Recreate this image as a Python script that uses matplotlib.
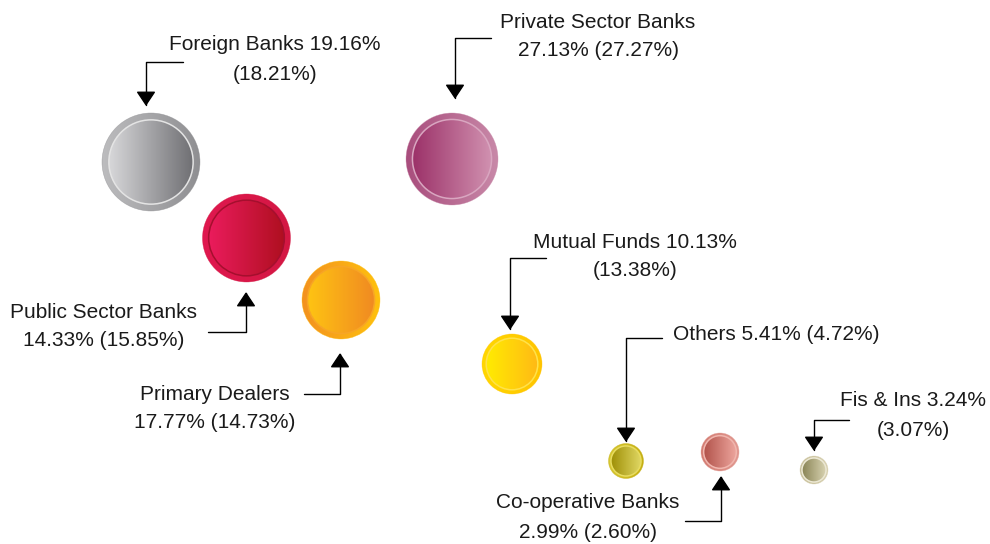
import numpy as np
import matplotlib.pyplot as plt
from matplotlib.patches import Circle
from matplotlib.colors import to_rgb

# share of trading, current (previous)
names = ["Foreign Banks", "Private Sector Banks", "Public Sector Banks", "Primary Dealers",
         "Mutual Funds", "Others", "Co-operative Banks", "Fis & Ins"]
share_now = [19.16, 27.13, 14.33, 17.77, 10.13, 5.41, 2.99, 3.24]
share_prev = [18.21, 27.27, 15.85, 14.73, 13.38, 4.72, 2.60, 3.07]

# bubble layout (pixels, y down)
bubble_x = [151, 452, 246.5, 341, 512, 626, 720, 814]
bubble_y = [162, 159, 238, 300, 364, 461, 452, 470]
bubble_r = [49, 46, 44, 39, 30, 17.5, 19, 14]

# ring (left, right), inner fill (left, right), thin line
ring_cols = [("#bdbdbf", "#8e8e91"), ("#a84c7c", "#c98aa9"), ("#e0184f", "#d31743"),
             ("#f39020", "#ffc20e"), ("#ffd800", "#ffc400"), ("#d8c832", "#c4ae12"),
             ("#d27a70", "#e29a92"), ("#c2ba92", "#d8d0b0")]
fill_cols = [("#dadadc", "#6c6c70"), ("#9a2e66", "#d294b2"), ("#ec1c5e", "#ad0f1e"),
             ("#ffc612", "#f08822"), ("#ffee00", "#ffb716"), ("#9a8a00", "#e6de6c"),
             ("#ae4e46", "#f2aca4"), ("#837e4e", "#e2dcbc")]
line_cols = ["#e4e4e4", "#d9a6c0", "#a50f2e", "#f7a526", "#ffe24a", "#e8dc60", "#f0b6ae", "#ece8d4"]

# label layout: first line centre, line start, arrow tip
text_xy = [(275, 45), (598, 22), (104, 312), (215, 394), (635, 242), (776, 335), (588, 503), (913, 401)]
line_start = [(183, 62), (491, 38), (208, 332), (304, 394), (546, 258), (662, 338), (685, 521), (849, 420)]
arrow_tip = [(146, 106), (455, 99), (246, 292), (340, 353), (510, 330), (626, 442), (721, 476), (814, 451)]
# which labels put the name and shares on one line / break after the first share
one_line = [False, False, False, False, False, True, False, False]
name_with_now = [True, False, False, False, True, True, False, True]

fig = plt.figure(figsize=(9.9, 5.44), dpi=100)
ax = fig.add_axes([0, 0, 1, 1])


def gradient(c1, c2):
    a, b = np.array(to_rgb(c1)), np.array(to_rgb(c2))
    t = np.linspace(0, 1, 256)[None, :, None]
    return np.repeat(a + (b - a) * t, 2, axis=0)


for i in range(len(names)):
    cx, cy, r = bubble_x[i], bubble_y[i], bubble_r[i]
    rin = r * 0.86
    for rad, cols in [(r, ring_cols[i]), (rin, fill_cols[i])]:
        clip = Circle((cx, cy), rad, transform=ax.transData, fc="none", ec="none")
        ax.add_patch(clip)
        im = ax.imshow(gradient(*cols), extent=[cx - rad - 2, cx + rad + 2, cy + rad + 2, cy - rad - 2],
                       interpolation="bilinear", zorder=2)
        im.set_clip_path(clip)
    ax.add_patch(Circle((cx, cy), r, fc="none", ec=ring_cols[i][1], lw=0.4, alpha=0.6, zorder=3))
    ax.add_patch(Circle((cx, cy), rin, fc="none", ec=line_cols[i], lw=1.1, zorder=3))

    now = f"{share_now[i]:.2f}%"
    prev = f"({share_prev[i]:.2f}%)"
    if one_line[i]:
        lines = [f"{names[i]} {now} {prev}"]
    elif name_with_now[i]:
        lines = [f"{names[i]} {now}", prev]
    else:
        lines = [names[i], f"{now} {prev}"]
    for k, line in enumerate(lines):
        ax.text(text_xy[i][0], text_xy[i][1] + 29 * k, line, ha="center", va="center",
                fontsize=15, family="Liberation Sans", color="#1a1a1a")

    ax.annotate("", xy=arrow_tip[i], xytext=line_start[i],
                arrowprops=dict(arrowstyle="-|>,head_length=0.45,head_width=0.3", color="black",
                                lw=1.0, shrinkA=0, shrinkB=0, mutation_scale=20,
                                connectionstyle="angle,angleA=0,angleB=90,rad=0"))

ax.set_xlim(0, 990)
ax.set_ylim(544, 0)
ax.axis("off")
fig.savefig("out.png", dpi=100)
